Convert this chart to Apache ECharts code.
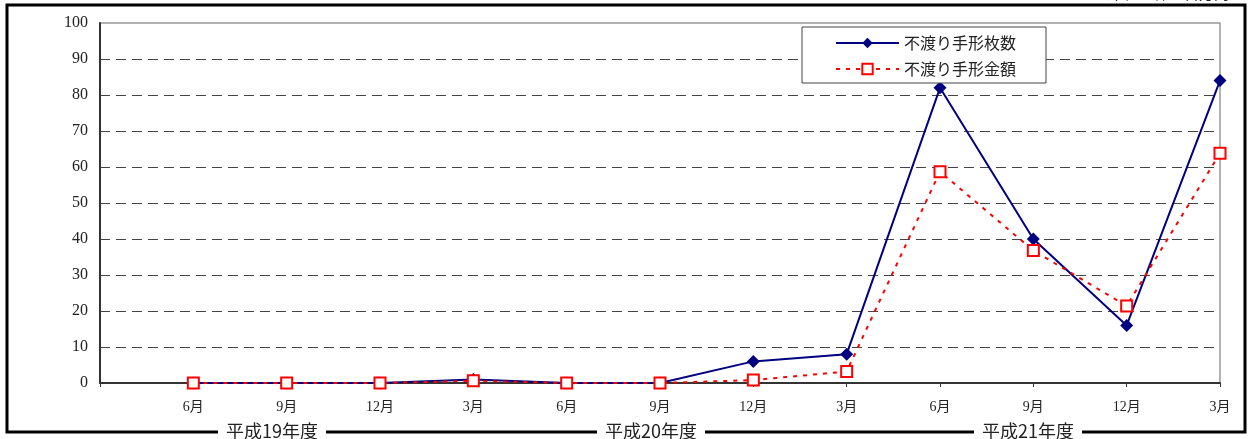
<!DOCTYPE html>
<html><head><meta charset="utf-8">
<script src="https://cdn.jsdelivr.net/npm/echarts@6/dist/echarts.min.js"></script>
<style>html,body{margin:0;padding:0;background:#fff}#c{width:1250px;height:439px}</style>
</head><body><div id="c"></div>
<script>
var categories = ['', '6月','9月','12月','3月','6月','9月','12月','3月','6月','9月','12月','3月'];
var countValues = [0, 0, 0, 1, 0, 0, 6, 8, 82, 40, 16, 84];
var amountValues = [0, 0, 0, 0.6, 0, 0, 0.8, 3.2, 58.7, 36.8, 21.4, 63.8];
var yearLabels = ['平成19年度', '平成20年度', '平成21年度'];
var seriesNames = ['不渡り手形枚数', '不渡り手形金額'];

var serif = "'Liberation Serif','Noto Sans CJK JP',serif";
var chart = echarts.init(document.getElementById('c'));
chart.setOption({
  animation: false,
  backgroundColor: '#fff',
  grid: {left: 100, right: 30, top: 23, bottom: 56, show: true, borderColor: '#999', borderWidth: 1.5},
  legend: {
    orient: 'vertical', left: 802, top: 27,
    padding: [8, 30, 6, 33], itemGap: 10, itemWidth: 63, itemHeight: 13,
    borderColor: '#444', borderWidth: 1, backgroundColor: '#fff',
    textStyle: {fontFamily: "'Noto Sans CJK JP',sans-serif", fontSize: 16, color: '#222'},
    data: seriesNames
  },
  xAxis: {
    type: 'category', data: categories, boundaryGap: false,
    axisLine: {lineStyle: {color: '#333', width: 2}},
    axisTick: {show: true, inside: false, length: 4, lineStyle: {color: '#333'}},
    axisLabel: {fontFamily: serif, fontSize: 14, color: '#222', margin: 17, interval: 0}
  },
  yAxis: {
    type: 'value', min: 0, max: 100, interval: 10,
    axisLine: {show: true, lineStyle: {color: '#333', width: 2}},
    axisTick: {show: false},
    axisLabel: {fontFamily: serif, fontSize: 16, color: '#222', margin: 12},
    splitLine: {show: true, showMinLine: false, showMaxLine: false, lineStyle: {color: '#444', type: [10, 6], width: 1}}
  },
  series: [
    {
      name: seriesNames[0], type: 'line', data: [null].concat(countValues),
      symbol: 'diamond', symbolSize: 13, showAllSymbol: true,
      lineStyle: {color: '#000080', width: 2},
      itemStyle: {color: '#000080'}, z: 3
    },
    {
      name: seriesNames[1], type: 'line', data: [null].concat(amountValues),
      symbol: 'rect', symbolSize: 11, showAllSymbol: true,
      lineStyle: {color: '#ff0000', width: 2, type: [4, 6]},
      itemStyle: {color: '#fff', borderColor: '#ff0000', borderWidth: 2}, z: 4
    }
  ],
  graphic: [
    {type: 'rect', z: 100, shape: {x: 7, y: 5, width: 1238, height: 427}, style: {fill: null, stroke: '#000', lineWidth: 3}},
    {type: 'text', z: 101, x: 1244, y: -7, style: {text: '（単位：件、百万円）', fill: '#222', font: "15px 'Noto Sans CJK JP'", align: 'right', verticalAlign: 'middle', textAlign: 'right', textVerticalAlign: 'middle'}},
    {type: 'text', z: 101, x: 272, y: 431, style: {text: yearLabels[0], fill: '#222', font: "18px 'Noto Sans CJK JP'", align: 'center', verticalAlign: 'middle', textAlign: 'center', textVerticalAlign: 'middle', backgroundColor: '#fff', padding: [2, 8]}},
    {type: 'text', z: 101, x: 651, y: 431, style: {text: yearLabels[1], fill: '#222', font: "18px 'Noto Sans CJK JP'", align: 'center', verticalAlign: 'middle', textAlign: 'center', textVerticalAlign: 'middle', backgroundColor: '#fff', padding: [2, 8]}},
    {type: 'text', z: 101, x: 1028, y: 431, style: {text: yearLabels[2], fill: '#222', font: "18px 'Noto Sans CJK JP'", align: 'center', verticalAlign: 'middle', textAlign: 'center', textVerticalAlign: 'middle', backgroundColor: '#fff', padding: [2, 8]}}
  ]
});
</script></body></html>
